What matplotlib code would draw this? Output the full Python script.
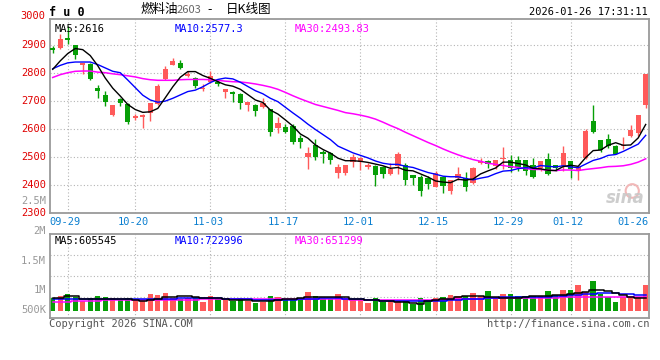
import numpy as np
import matplotlib.pyplot as plt
from matplotlib.patches import Ellipse
from matplotlib.transforms import blended_transform_factory

# ---- data ----
opens = [2888, 2887, 2924, 2897, 2826, 2830, 2745, 2719, 2650, 2705,
         2687, 2640, 2642, 2658, 2688, 2778, 2829, 2836, 2788, 2780,
         2741, 2766, 2768, 2733, 2733, 2725, 2685, 2685, 2679, 2670,
         2605, 2606, 2612, 2567, 2499, 2542, 2518, 2516, 2442, 2444,
         2483, 2482, 2466, 2468, 2463, 2438, 2468, 2473, 2435, 2430,
         2425, 2395, 2429, 2379, 2426, 2426, 2408, 2480, 2486, 2468,
         2492, 2490, 2490, 2490, 2473, 2461, 2494, 2470, 2468, 2486,
         2452, 2496, 2627, 2562, 2563, 2539, 2539, 2575, 2586, 2685]
highs = [2895, 2938, 2966, 2899, 2836, 2836, 2755, 2735, 2684, 2709,
         2692, 2652, 2654, 2694, 2760, 2825, 2853, 2846, 2806, 2784,
         2760, 2806, 2777, 2742, 2735, 2727, 2697, 2687, 2709, 2672,
         2644, 2617, 2618, 2579, 2537, 2563, 2524, 2518, 2477, 2472,
         2511, 2501, 2478, 2470, 2468, 2480, 2518, 2480, 2437, 2435,
         2432, 2449, 2432, 2419, 2464, 2446, 2464, 2498, 2488, 2490,
         2536, 2506, 2504, 2490, 2498, 2485, 2515, 2473, 2539, 2486,
         2468, 2601, 2685, 2562, 2583, 2544, 2571, 2615, 2649, 2795]
lows = [2870, 2883, 2901, 2849, 2797, 2773, 2711, 2680, 2646, 2680,
        2616, 2633, 2605, 2627, 2684, 2775, 2826, 2813, 2786, 2745,
        2736, 2763, 2751, 2709, 2697, 2670, 2665, 2646, 2674, 2575,
        2587, 2585, 2546, 2534, 2456, 2490, 2480, 2475, 2427, 2435,
        2466, 2454, 2457, 2396, 2425, 2437, 2440, 2399, 2399, 2363,
        2387, 2393, 2373, 2367, 2420, 2381, 2405, 2476, 2461, 2458,
        2458, 2446, 2452, 2437, 2426, 2452, 2437, 2452, 2450, 2425,
        2420, 2494, 2587, 2518, 2532, 2510, 2530, 2571, 2575, 2676]
closes = [2881, 2919, 2915, 2862, 2834, 2777, 2736, 2696, 2684, 2694,
          2624, 2645, 2649, 2692, 2754, 2813, 2842, 2817, 2796, 2751,
          2745, 2789, 2759, 2742, 2723, 2691, 2695, 2665, 2694, 2590,
          2622, 2590, 2555, 2553, 2516, 2500, 2511, 2488, 2466, 2470,
          2502, 2497, 2470, 2437, 2440, 2458, 2512, 2420, 2427, 2381,
          2405, 2444, 2396, 2419, 2440, 2393, 2461, 2486, 2476, 2490,
          2496, 2461, 2464, 2449, 2429, 2485, 2438, 2461, 2515, 2456,
          2464, 2592, 2589, 2524, 2539, 2512, 2544, 2595, 2649, 2795]

ma5 = [2812, 2842, 2868, 2886, 2882, 2861, 2825, 2781, 2745, 2717,
       2687, 2669, 2659, 2661, 2673, 2711, 2750, 2784, 2804, 2804,
       2790, 2780, 2768, 2757, 2752, 2741, 2722, 2703, 2694, 2667,
       2653, 2632, 2610, 2582, 2567, 2543, 2527, 2514, 2496, 2487,
       2487, 2485, 2481, 2475, 2469, 2460, 2463, 2453, 2451, 2440,
       2429, 2415, 2411, 2409, 2421, 2418, 2422, 2440, 2451, 2461,
       2482, 2482, 2477, 2472, 2460, 2458, 2453, 2452, 2466, 2471,
       2467, 2498, 2523, 2525, 2542, 2551, 2542, 2543, 2568, 2616]
ma10 = [2814, 2826, 2835, 2838, 2838, 2838, 2829, 2817, 2805, 2800,
        2774, 2747, 2720, 2703, 2695, 2699, 2709, 2721, 2733, 2738,
        2750, 2765, 2776, 2781, 2778, 2766, 2751, 2736, 2725, 2709,
        2697, 2677, 2657, 2638, 2617, 2598, 2580, 2562, 2539, 2527,
        2515, 2506, 2497, 2486, 2478, 2474, 2474, 2467, 2463, 2454,
        2445, 2439, 2432, 2430, 2430, 2424, 2419, 2425, 2430, 2441,
        2450, 2452, 2459, 2462, 2461, 2470, 2467, 2465, 2469, 2465,
        2462, 2475, 2488, 2495, 2506, 2509, 2520, 2533, 2546, 2577.3]
ma30 = [2783, 2793, 2800, 2805, 2806, 2806, 2802, 2800, 2796, 2793,
        2789, 2785, 2779, 2775, 2773, 2773, 2773, 2775, 2776, 2776,
        2776, 2775, 2773, 2770, 2768, 2767, 2764, 2760, 2755, 2749,
        2741, 2730, 2718, 2707, 2697, 2687, 2680, 2673, 2666, 2658,
        2654, 2649, 2643, 2635, 2624, 2612, 2601, 2588, 2576, 2564,
        2552, 2541, 2529, 2518, 2508, 2499, 2491, 2485, 2478, 2474,
        2470, 2466, 2463, 2459, 2456, 2456, 2453, 2452, 2454, 2454,
        2452, 2456, 2459, 2462, 2466, 2467, 2469, 2474, 2482, 2493.83]

# volumes in thousands of lots
volume = [610, 690, 760, 640, 510, 610, 690, 650, 610, 550,
          620, 550, 510, 760, 720, 790, 630, 570, 610, 650,
          480, 690, 570, 570, 520, 620, 520, 450, 480, 690,
          650, 550, 550, 620, 840, 690, 570, 570, 760, 610,
          560, 560, 440, 620, 490, 510, 510, 510, 420, 620,
          510, 620, 650, 720, 690, 690, 790, 690, 850, 620,
          760, 760, 690, 690, 690, 690, 860, 720, 900, 900,
          1080, 840, 1230, 760, 650, 490, 650, 650, 650, 1080]
vol_ma5 = [610, 610, 690, 690, 590, 590, 590, 570, 570, 570,
           570, 550, 520, 550, 600, 640, 660, 680, 680, 640,
           610, 610, 610, 580, 560, 560, 560, 520, 510, 520,
           550, 570, 600, 620, 640, 650, 650, 660, 660, 640,
           600, 570, 560, 560, 530, 510, 490, 490, 460, 420,
           500, 540, 570, 600, 640, 680, 680, 680, 640, 640,
           620, 610, 620, 660, 680, 680, 700, 720, 720, 760,
           800, 840, 900, 900, 880, 800, 720, 660, 610, 605.545]
vol_ma10 = [600, 600, 600, 600, 600, 590, 590, 590, 590, 590,
            580, 580, 570, 570, 570, 580, 590, 610, 610, 610,
            610, 610, 610, 600, 590, 580, 570, 560, 550, 550,
            550, 550, 550, 570, 590, 600, 610, 610, 610, 600,
            580, 570, 560, 550, 530, 520, 510, 510, 510, 510,
            510, 520, 530, 550, 560, 570, 580, 600, 620, 630,
            640, 640, 640, 650, 650, 660, 670, 690, 700, 720,
            740, 760, 770, 780, 780, 780, 770, 750, 740, 722.996]
vol_ma30 = [480, 480, 490, 500, 510, 520, 530, 540, 540, 540,
            540, 540, 540, 550, 550, 550, 560, 560, 560, 560,
            570, 570, 570, 570, 570, 570, 570, 570, 570, 570,
            570, 570, 570, 570, 570, 570, 570, 570, 570, 570,
            560, 560, 550, 550, 550, 540, 540, 540, 540, 540,
            550, 550, 560, 570, 580, 590, 600, 600, 610, 610,
            610, 610, 610, 610, 620, 620, 630, 630, 640, 640,
            640, 650, 650, 650, 650, 650, 650, 650, 650, 651.299]

date_idx = [2, 11, 21, 31, 41, 51, 61, 69, 79]
date_labels = ['09-29', '10-20', '11-03', '11-17', '12-01', '12-15', '12-29', '01-12', '01-26']
price_ticks = [2300, 2400, 2500, 2600, 2700, 2800, 2900, 3000]
vol_tick_labels = ['2.5M', '2M', '1.5M', '1M', '500K']
vol_tick_px = [200.7, 230.7, 260.7, 290.0, 310.0]   # where the labels sit (px from top)

RED = '#ff5a5a'
GREEN = '#079f07'
MONO = 'DejaVu Sans Mono'
GRID = dict(color='#b4b4b4', lw=0.8, ls=(0, (1, 2)))

x = np.arange(len(closes))
up = np.array(closes) >= np.array(opens)
cols = [RED if u else GREEN for u in up]

W, H = 660, 360
fig = plt.figure(figsize=(6.6, 3.6), dpi=100)
ax = fig.add_axes([50 / W, 1 - 213.3 / H, 599 / W, 194.3 / H])
axv = fig.add_axes([50 / W, 1 - 317.7 / H, 599 / W, 83.7 / H])

for a in (ax, axv):
    a.set_xlim(-0.36, 79.44)
    a.set_xticks([])
    a.set_yticks([])
    for s in a.spines.values():
        s.set_color('#9a9a9a')
        s.set_linewidth(1.3)
    for d in date_idx[:-1]:
        a.axvline(d, zorder=0, **GRID)

# ---- price panel ----
ax.set_ylim(2300, 2991)
for p in price_ticks[1:-1]:
    ax.axhline(p, zorder=0, **GRID)

ax.vlines(x, lows, highs, colors=cols, lw=1, zorder=2)
body_lo = np.minimum(opens, closes)
body_h = np.maximum(np.abs(np.array(closes) - np.array(opens)), 1.5)
ax.bar(x, body_h, bottom=body_lo, width=0.7, color=cols, zorder=3)

ax.plot(x, ma30, color='#ff00ff', lw=1.1, zorder=4)
ax.plot(x, ma10, color='#0000ff', lw=1.0, zorder=4)
ax.plot(x, ma5, color='black', lw=1.0, zorder=4)

ty = blended_transform_factory(ax.transAxes, ax.transData)
for p in price_ticks:
    ax.text(-0.007, p, str(p), transform=ty, ha='right', va='center',
            color='#e00000', fontsize=7.5, family=MONO, clip_on=False)

tx = blended_transform_factory(ax.transData, ax.transAxes)
for d, lab in zip(date_idx, date_labels):
    if d == date_idx[-1]:
        ax.text(1.0, -0.043, lab, transform=ax.transAxes, ha='right', va='center',
                color='#0a7fd0', fontsize=7.5, family=MONO)
    else:
        ax.text(d - 0.3, -0.043, lab, transform=tx, ha='center', va='center',
                color='#0a7fd0', fontsize=7.5, family=MONO)

ax.text(0.008, 0.975, f'MA5:{ma5[-1]:g}', transform=ax.transAxes, va='top',
        color='black', fontsize=7.5, family=MONO)
ax.text(0.208, 0.975, f'MA10:{ma10[-1]:g}', transform=ax.transAxes, va='top',
        color='#0000ff', fontsize=7.5, family=MONO)
ax.text(0.409, 0.975, f'MA30:{ma30[-1]:g}', transform=ax.transAxes, va='top',
        color='#ff00ff', fontsize=7.5, family=MONO)

# sina watermark
ax.add_patch(Ellipse((0.972, 0.115), 0.022, 0.07, transform=ax.transAxes,
                     fc='none', ec='#f2b8b8', lw=1.5))
ax.text(0.992, 0.03, 'sina', transform=ax.transAxes, ha='right', va='bottom',
        color='#c8c8c8', fontsize=12, fontweight='bold', style='italic', alpha=0.9)

# ---- volume panel ----
vol_base = 170
axv.set_ylim(-76, 2876)
for f in (0.25, 0.5, 0.75):
    axv.axhline(-76 + f * 2952, zorder=0, **GRID)
vh = np.array(volume) - vol_base
axv.bar(x, vh, bottom=vol_base, width=0.72, color=cols, zorder=2)
axv.plot(x, vol_ma30, color='#ff00ff', lw=1.1, drawstyle='steps-mid', zorder=3)
axv.plot(x, vol_ma10, color='#0000ff', lw=1.1, drawstyle='steps-mid', zorder=3)
axv.plot(x, vol_ma5, color='black', lw=1.1, drawstyle='steps-mid', zorder=3)

axv.text(0.008, 0.975, f'MA5:{round(vol_ma5[-1] * 1000)}', transform=axv.transAxes, va='top',
         color='black', fontsize=7.5, family=MONO)
axv.text(0.208, 0.975, f'MA10:{round(vol_ma10[-1] * 1000)}', transform=axv.transAxes, va='top',
         color='#0000ff', fontsize=7.5, family=MONO)
axv.text(0.409, 0.975, f'MA30:{round(vol_ma30[-1] * 1000)}', transform=axv.transAxes, va='top',
         color='#ff00ff', fontsize=7.5, family=MONO)

for lab, py in zip(vol_tick_labels, vol_tick_px):
    fig.text(46 / W, 1 - py / H, lab, ha='right', va='center',
             color='#999999', fontsize=7.5, family=MONO)

# ---- header / footer ----
fig.text(49 / W, 1 - 12 / H, 'f u 0', ha='left', va='center', color='black',
         fontsize=8.5, fontweight='bold', family=MONO)
cjk = ['Noto Sans CJK SC', 'DejaVu Sans']
fig.text(140 / W, 1 - 9.5 / H, '燃料油', ha='left', va='center', fontsize=9, family=cjk)
fig.text(177 / W, 1 - 10 / H, '2603', ha='left', va='center', fontsize=8,
         color='#666666', family=cjk)
fig.text(207 / W, 1 - 9.5 / H, '-', ha='left', va='center', fontsize=9, family=cjk)
fig.text(226 / W, 1 - 9.5 / H, '日K线图', ha='left', va='center', fontsize=9, family=cjk)
fig.text(648 / W, 1 - 12 / H, '2026-01-26 17:31:11', ha='right', va='center',
         color='black', fontsize=7.5, family=MONO)

fig.text(49 / W, 1 - 324 / H, 'Copyright 2026 SINA.COM', ha='left', va='center',
         color='#555555', fontsize=7.5, family=MONO)
fig.text(649 / W, 1 - 324 / H, 'http://finance.sina.com.cn', ha='right', va='center',
         color='#555555', fontsize=7.5, family=MONO)

fig.savefig('out.png', dpi=100)
